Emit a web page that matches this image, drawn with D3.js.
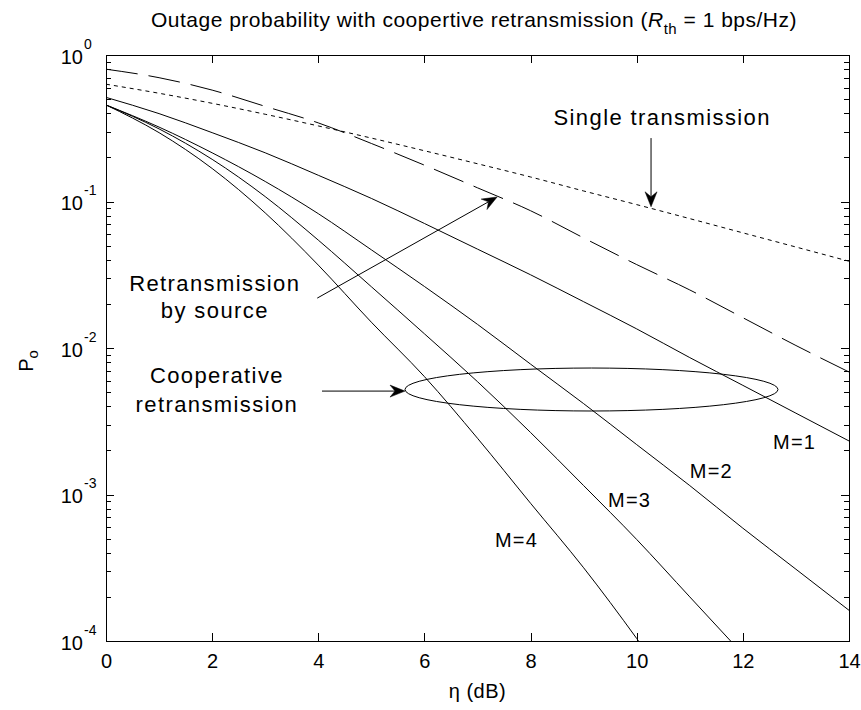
<!DOCTYPE html>
<html>
<head>
<meta charset="utf-8">
<script src="https://cdn.jsdelivr.net/npm/d3@7"></script>
<style>
  html, body { margin: 0; padding: 0; background: #fff; }
  svg { display: block; font-family: "Liberation Sans", Arial, Helvetica, sans-serif; }
</style>
</head>
<body>
<svg id="chart" width="861" height="710"></svg>
<script>
// ---- data: outage probability vs. normalised SNR (dB) ----
const etaDb      = [0, 1, 2, 3, 4, 5, 6, 7, 8, 9, 10, 11, 12, 13, 14];
const singleTx   = [0.632, 0.548, 0.468, 0.394, 0.328, 0.271, 0.222, 0.181, 0.147, 0.118, 0.0952, 0.0764, 0.0611, 0.0489, 0.0391];
const retxSource = [0.80, 0.70, 0.576, 0.446, 0.344, 0.249, 0.177, 0.124, 0.0865, 0.0564, 0.0371, 0.0249, 0.0161, 0.0104, 0.00686];
const coopM1     = [0.514, 0.398, 0.295, 0.215, 0.151, 0.105, 0.0708, 0.0473, 0.0316, 0.0207, 0.0135, 0.0086, 0.00556, 0.00359, 0.00232];
const coopM2     = [0.456, 0.322, 0.215, 0.137, 0.0826, 0.0468, 0.0263, 0.0145, 0.00776, 0.00417, 0.00219, 0.00115, 0.000589, 0.000309, 0.000162];
const coopM3     = [0.456, 0.313, 0.194, 0.108, 0.0545, 0.0262, 0.0125, 0.00589, 0.00265, 0.00115, 0.000493, 0.000200, 0.0000813];
const coopM4     = [0.456, 0.295, 0.168, 0.0836, 0.0368, 0.0150, 0.00638, 0.00242, 0.000871, 0.000316, 0.000104, 0.0000316];

const xTicks      = [0, 2, 4, 6, 8, 10, 12, 14];
const yExponents  = [0, -1, -2, -3, -4];
const minorMults  = [2, 3, 4, 5, 6, 7, 8, 9];
const mLabels     = ["M=1", "M=2", "M=3", "M=4"];

// ---- layout ----
const plot = { left: 106, top: 55, right: 849, bottom: 641 };
const FONT = 20;
const INK = "#000";

const svg = d3.select("#chart");
const x = d3.scaleLinear().domain([0, 14]).range([plot.left, plot.right]);
const y = d3.scaleLog().domain([1e-4, 1]).range([plot.bottom, plot.top]);

svg.append("rect").attr("width", 861).attr("height", 710).attr("fill", "#fff");

svg.append("defs").append("clipPath").attr("id", "plotClip")
  .append("rect")
  .attr("x", plot.left).attr("y", plot.top)
  .attr("width", plot.right - plot.left).attr("height", plot.bottom - plot.top);

// ---- curves ----
const series = [
  { values: singleTx,   dash: "4,4" },
  { values: retxSource, dash: "32,11" },
  { values: coopM1,     dash: null },
  { values: coopM2,     dash: null },
  { values: coopM3,     dash: null },
  { values: coopM4,     dash: null }
];

const line = d3.line()
  .x(d => x(d[0]))
  .y(d => y(d[1]))
  .curve(d3.curveMonotoneX);

const curves = svg.append("g").attr("clip-path", "url(#plotClip)");
curves.selectAll("path")
  .data(series)
  .join("path")
  .attr("d", s => line(s.values.map((v, i) => [etaDb[i], v])))
  .attr("fill", "none")
  .attr("stroke", INK)
  .attr("stroke-width", 1)
  .attr("stroke-dasharray", s => s.dash);

// ---- axes ----
const majorY = yExponents.map(e => Math.pow(10, e));
const minorY = [];
yExponents.slice(1).forEach(e => minorMults.forEach(m => minorY.push(m * Math.pow(10, e))));

function styleAxis(g) {
  g.select(".domain").remove();
  g.selectAll(".tick line").attr("stroke", INK).attr("shape-rendering", "crispEdges");
}

// bottom axis with labels
const gx = svg.append("g")
  .attr("transform", `translate(0,${plot.bottom})`)
  .call(d3.axisBottom(x).tickValues(xTicks).tickSizeInner(-8).tickSizeOuter(0).tickPadding(13))
  .call(styleAxis);
gx.selectAll(".tick text")
  .attr("font-size", FONT).attr("font-family", null).attr("fill", INK);

// top axis ticks
svg.append("g")
  .attr("transform", `translate(0,${plot.top})`)
  .call(d3.axisTop(x).tickValues(xTicks).tickSizeInner(-8).tickSizeOuter(0).tickFormat(""))
  .call(styleAxis);

// left axis: major + minor ticks
const gyl = svg.append("g")
  .attr("transform", `translate(${plot.left},0)`)
  .call(d3.axisLeft(y).tickValues(majorY).tickSizeInner(-8).tickSizeOuter(0).tickFormat(""))
  .call(styleAxis);
svg.append("g")
  .attr("transform", `translate(${plot.left},0)`)
  .call(d3.axisLeft(y).tickValues(minorY).tickSizeInner(-5).tickSizeOuter(0).tickFormat(""))
  .call(styleAxis);

// right axis: major + minor ticks
svg.append("g")
  .attr("transform", `translate(${plot.right},0)`)
  .call(d3.axisRight(y).tickValues(majorY).tickSizeInner(-8).tickSizeOuter(0).tickFormat(""))
  .call(styleAxis);
svg.append("g")
  .attr("transform", `translate(${plot.right},0)`)
  .call(d3.axisRight(y).tickValues(minorY).tickSizeInner(-5).tickSizeOuter(0).tickFormat(""))
  .call(styleAxis);

// power-of-ten labels on the left axis
gyl.selectAll(".tick").each(function (d) {
  d3.select(this).append("text")
    .attr("x", -23).attr("y", 8)
    .attr("fill", INK).attr("font-size", FONT).attr("font-family", null)
    .attr("text-anchor", "end")
    .text("10");
  d3.select(this).append("text")
    .attr("x", -22).attr("y", -7)
    .attr("fill", INK).attr("font-size", 14).attr("font-family", null)
    .attr("text-anchor", "start")
    .text(String(Math.round(Math.log10(d))));
});

// frame
svg.append("rect")
  .attr("x", plot.left + 0.5).attr("y", plot.top + 0.5)
  .attr("width", plot.right - plot.left).attr("height", plot.bottom - plot.top)
  .attr("fill", "none").attr("stroke", INK).attr("stroke-width", 1)
  .attr("shape-rendering", "crispEdges");

// ---- title and axis labels ----
const title = svg.append("text")
  .attr("x", 474).attr("y", 27)
  .attr("text-anchor", "middle").attr("font-size", 21).attr("letter-spacing", 0.5).attr("fill", INK);
title.append("tspan").text("Outage probability with coopertive retransmission (");
title.append("tspan").attr("font-style", "italic").text("R");
title.append("tspan").attr("font-size", 15).attr("dy", 7).text("th");
title.append("tspan").attr("dy", -7).text(" = 1 bps/Hz)");

svg.append("text")
  .attr("x", (plot.left + plot.right) / 2).attr("y", 698)
  .attr("text-anchor", "middle").attr("font-size", FONT).attr("letter-spacing", 0.5).attr("fill", INK)
  .text("η (dB)");

const yl = svg.append("text")
  .attr("transform", `translate(33,361) rotate(-90)`)
  .attr("text-anchor", "middle").attr("font-size", FONT).attr("fill", INK);
yl.append("tspan").text("P");
yl.append("tspan").attr("font-size", 15).attr("dy", 5).text("o");

// ---- annotations (anchored in data coordinates) ----
const ann = svg.append("g").attr("fill", INK).attr("font-size", 22).attr("letter-spacing", 1.4);

function arrow(x1, y1, x2, y2) {
  const a = Math.atan2(y2 - y1, x2 - x1);
  const L = 15, W = 6, N = 10;
  const rot = (px, py) => [x2 + px * Math.cos(a) - py * Math.sin(a), y2 + px * Math.sin(a) + py * Math.cos(a)];
  const back = rot(-N, 0);
  ann.append("line")
    .attr("x1", x1).attr("y1", y1).attr("x2", back[0]).attr("y2", back[1])
    .attr("stroke", INK).attr("stroke-width", 1);
  const pts = [rot(0, 0), rot(-L, -W), rot(-N, 0), rot(-L, W)];
  ann.append("path")
    .attr("d", "M" + pts.map(p => p.join(",")).join("L") + "Z")
    .attr("fill", INK).attr("stroke", INK).attr("stroke-width", 0.5);
}

// single transmission
ann.append("text").attr("x", x(10.48)).attr("y", y(0.333)).attr("text-anchor", "middle")
  .text("Single transmission");
arrow(x(10.27), y(0.271), x(10.27), y(0.092));

// retransmission by source
const rt = ann.append("text").attr("x", x(2.05)).attr("y", y(0.0246)).attr("text-anchor", "middle");
rt.append("tspan").attr("x", x(2.05)).text("Retransmission");
rt.append("tspan").attr("x", x(2.05)).attr("dy", 27.5).text("by source");
arrow(x(3.98), y(0.0219), x(7.37), y(0.1074));

// cooperative retransmission
const ct = ann.append("text").attr("x", x(2.09)).attr("y", y(0.00577)).attr("text-anchor", "middle");
ct.append("tspan").attr("x", x(2.09)).text("Cooperative");
ct.append("tspan").attr("x", x(2.09)).attr("dy", 29).text("retransmission");
arrow(x(4.07), y(0.00508), x(5.634), y(0.00508));

const eL = x(5.634), eR = x(12.662), eT = y(0.0073), eB = y(0.003715);
ann.append("ellipse")
  .attr("cx", (eL + eR) / 2).attr("cy", (eT + eB) / 2)
  .attr("rx", (eR - eL) / 2).attr("ry", (eB - eT) / 2)
  .attr("fill", "none").attr("stroke", INK).attr("stroke-width", 1);

// relay-count labels
const mPos = [[12.57, 0.00205], [11.0, 0.0013], [9.46, 0.00082], [7.33, 0.000438]];
ann.selectAll("text.mlab")
  .data(mLabels)
  .join("text")
  .attr("class", "mlab")
  .attr("font-size", FONT).attr("letter-spacing", 1.2)
  .attr("x", (d, i) => x(mPos[i][0]))
  .attr("y", (d, i) => y(mPos[i][1]))
  .text(d => d);
</script>
</body>
</html>
